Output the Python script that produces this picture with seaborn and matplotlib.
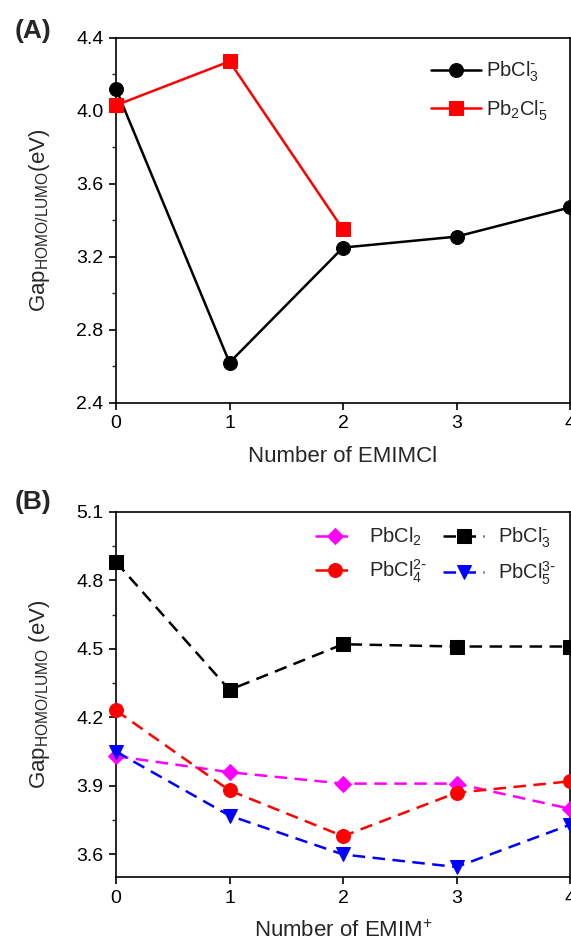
import numpy as np
import pandas as pd
import matplotlib
matplotlib.use("Agg")
import matplotlib.pyplot as plt
import seaborn as sns
from matplotlib.ticker import MultipleLocator

# Panel A data
x_a = [0, 1, 2, 3, 4]
pbcl3_a = [4.12, 2.62, 3.25, 3.31, 3.47]
x_a2 = [0, 1, 2]
pb2cl5_a = [4.03, 4.27, 3.35]

# Panel B data
x_b = [0, 1, 2, 3, 4]
pbcl2_b = [4.03, 3.96, 3.91, 3.91, 3.80]
pbcl3_b = [4.88, 4.32, 4.52, 4.51, 4.51]
pbcl4_b = [4.23, 3.88, 3.68, 3.87, 3.92]
pbcl5_b = [4.05, 3.77, 3.60, 3.545, 3.73]

sns.set_style("ticks")
plt.rcParams['font.family'] = ['Liberation Sans', 'DejaVu Sans']
plt.rcParams['mathtext.default'] = 'regular'
plt.rcParams['axes.linewidth'] = 1.2
plt.rcParams['xtick.major.width'] = 1.2
plt.rcParams['ytick.major.width'] = 1.2
plt.rcParams['ytick.minor.width'] = 1.0

W, H = 571, 938
fig = plt.figure(figsize=(W / 100, H / 100), dpi=100)
left = 116 / W
width = (570 - 116) / W
axA = fig.add_axes([left, (H - 402.7) / H, width, 365 / H])
axB = fig.add_axes([left, (H - 877.3) / H, width, 365.6 / H])

lw = 1.8
sns.lineplot(x=x_a, y=pbcl3_a, ax=axA, color='black', marker='o', markersize=10,
             lw=lw, markeredgecolor='black', label='PbCl$_3^{\\text{-}}$', clip_on=False, zorder=3)
sns.lineplot(x=x_a2, y=pb2cl5_a, ax=axA, color='#ff0000', marker='s', markersize=9.5,
             lw=lw, markeredgecolor='#ff0000', label='Pb$_2$Cl$_5^{\\text{-}}$', clip_on=False, zorder=3)
axA.set_xlim(0, 4)
axA.set_ylim(2.4, 4.4)
axA.xaxis.set_major_locator(MultipleLocator(1))
axA.yaxis.set_major_locator(MultipleLocator(0.4))
axA.yaxis.set_minor_locator(MultipleLocator(0.2))
axA.set_xlabel('Number of EMIMCl', fontsize=16, labelpad=10)
axA.set_ylabel('Gap$_{HOMO/LUMO}$(eV)', fontsize=16)
axA.legend(loc='upper right', frameon=False, fontsize=14.5, handlelength=2.5,
           handletextpad=0.25, borderaxespad=0.7, labelspacing=0.7,
           bbox_to_anchor=(1.0, 1.0))

dash = (0, (5, 3))
sns.lineplot(x=x_b, y=pbcl2_b, ax=axB, color='#ff00ff', marker='D', markersize=8.5,
             lw=lw, linestyle=dash, markeredgecolor='#ff00ff', label='PbCl$_2$', clip_on=False, zorder=3)
sns.lineplot(x=x_b, y=pbcl4_b, ax=axB, color='#ff0000', marker='o', markersize=10,
             lw=lw, linestyle=dash, markeredgecolor='#ff0000', label='PbCl$_4^{2\\text{-}}$', clip_on=False, zorder=3)
sns.lineplot(x=x_b, y=pbcl3_b, ax=axB, color='black', marker='s', markersize=9.5,
             lw=lw, linestyle=dash, markeredgecolor='black', label='PbCl$_3^{\\text{-}}$', clip_on=False, zorder=3)
sns.lineplot(x=x_b, y=pbcl5_b, ax=axB, color='#0000ff', marker='v', markersize=10.5,
             lw=lw, linestyle=dash, markeredgecolor='#0000ff', label='PbCl$_5^{3\\text{-}}$', clip_on=False, zorder=3)
axB.set_xlim(0, 4)
axB.set_ylim(3.5, 5.1)
axB.xaxis.set_major_locator(MultipleLocator(1))
axB.yaxis.set_major_locator(MultipleLocator(0.3))
axB.yaxis.set_minor_locator(MultipleLocator(0.15))
axB.set_xlabel('Number of EMIM$^{+}$', fontsize=16, labelpad=10)
axB.set_ylabel('Gap$_{HOMO/LUMO}$ (eV)', fontsize=16)
axB.legend(loc='upper right', frameon=False, fontsize=14.5, ncol=2, handlelength=2.0,
           columnspacing=0.8, handletextpad=0.7, borderaxespad=0.3, labelspacing=0.45,
           bbox_to_anchor=(1.0, 1.0))

for ax in (axA, axB):
    for s in ax.spines.values():
        s.set_visible(True)
        s.set_color('black')
    ax.tick_params(axis='both', which='major', labelsize=14, length=5, direction='out',
                   colors='black', pad=4)
    ax.tick_params(axis='y', which='minor', length=3, direction='out')
    ax.yaxis.set_label_coords(-0.14, 0.5)

fig.text(15 / W, 1 - 31 / H, '(A)', fontsize=19, fontweight='bold', va='center', ha='left')
fig.text(15 / W, 1 - 502 / H, '(B)', fontsize=19, fontweight='bold', va='center', ha='left')

fig.savefig('out.png', dpi=100)
